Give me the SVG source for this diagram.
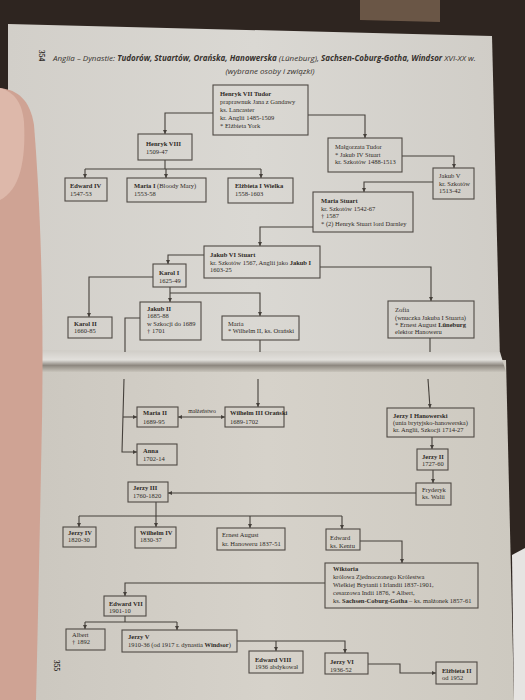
<svg xmlns="http://www.w3.org/2000/svg" width="525" height="700" viewBox="0 0 525 700">
<defs>
<style>
.bx{fill:none;stroke:#4f4944;stroke-width:1.1}
.t{font-family:"Liberation Serif","Times New Roman",serif;font-size:6.5px;fill:#2e2a26}
.b{font-weight:bold}
.ln{fill:none;stroke:#45403b;stroke-width:1.1}
.hd{font-family:"Open Sans","Liberation Sans",sans-serif;font-style:italic;font-size:8px;fill:#37322e}
</style>
<marker id="ar" viewBox="0 0 8 8" refX="8" refY="4" markerWidth="4" markerHeight="4" orient="auto" markerUnits="userSpaceOnUse">
<path d="M0,0 L8,4 L0,8 z" fill="#45403b"/>
</marker>
<marker id="as" viewBox="0 0 8 8" refX="0" refY="4" markerWidth="4" markerHeight="4" orient="auto" markerUnits="userSpaceOnUse">
<path d="M8,0 L0,4 L8,8 z" fill="#45403b"/>
</marker>
<linearGradient id="sp" x1="0" y1="0" x2="0" y2="1">
<stop offset="0" stop-color="#cfccc6"/>
<stop offset="0.45" stop-color="#e2e0dc"/>
<stop offset="0.7" stop-color="#8d877f"/>
<stop offset="1" stop-color="#c9c5bc"/>
</linearGradient>
<linearGradient id="pg1" x1="0" y1="0" x2="1" y2="0">
<stop offset="0" stop-color="#d2cfc9"/>
<stop offset="0.5" stop-color="#dad8d3"/>
<stop offset="1" stop-color="#d0cdc7"/>
</linearGradient>
<linearGradient id="pg2" x1="0" y1="0" x2="1" y2="0">
<stop offset="0" stop-color="#cbc7bf"/>
<stop offset="0.5" stop-color="#d6d2ca"/>
<stop offset="1" stop-color="#cdc9c0"/>
</linearGradient>
</defs>

<!-- background scene -->
<g id="scene">
<rect x="0" y="0" width="525" height="700" fill="#2e2520"/>
<polygon points="360,0 440,0 440,22 360,20" fill="#6a5646"/>
<polygon points="8,24 492,36 500,360 8,356" fill="url(#pg1)"/>
<polygon points="20,364 506,360 514,700 20,700" fill="url(#pg2)"/>
<polygon points="8,350 500,352 506,372 8,372" fill="url(#sp)"/>
<polygon points="512,555 525,548 525,700 514,700" fill="#e6e4e2"/>
<path d="M0,88 C18,90 30,100 34,125 C40,200 44,300 42,420 C40,520 38,620 36,700 L0,700 Z" fill="#cfa394"/>
<path d="M0,88 C14,92 22,102 24,122 C26,160 20,190 0,200 Z" fill="#ddb8aa"/>
</g>

<!-- header -->
<g id="header">
<text class="t b" transform="translate(39,50) rotate(90)" style="font-size:7.5px">354</text>
<text class="hd" x="53" y="61">Anglia – Dynastie: <tspan font-weight="bold">Tudorów, Stuartów, Orańska, Hanowerska</tspan> (Lüneburg), <tspan font-weight="bold">Sachsen-Coburg-Gotha, Windsor</tspan> XVI-XX w.</text>
<text class="hd" x="270" y="74" text-anchor="middle">(wybrane osoby i związki)</text>
<text class="t b" transform="translate(54,660) rotate(90)" style="font-size:7.5px">355</text>
</g>

<!-- connectors -->
<g id="connectors">
<polyline class="ln" points="213,113 165,113 165,134" marker-end="url(#ar)"/>
<polyline class="ln" points="308,115 365,115 365,138" marker-end="url(#ar)"/>
<polyline class="ln" points="165,160 165,169"/>
<polyline class="ln" points="85,169 261,169"/>
<polyline class="ln" points="85,169 85,178" marker-end="url(#ar)"/>
<polyline class="ln" points="166,169 166,178" marker-end="url(#ar)"/>
<polyline class="ln" points="261,169 261,178" marker-end="url(#ar)"/>
<polyline class="ln" points="402,156 454,156 454,168" marker-end="url(#ar)"/>
<polyline class="ln" points="433,182 364,182 364,192" marker-end="url(#ar)"/>
<polyline class="ln" points="313,227 260,227 260,246" marker-end="url(#ar)"/>
<polyline class="ln" points="204,255 168,255 168,264" marker-end="url(#ar)"/>
<polyline class="ln" points="320,267 431,267 431,301" marker-end="url(#ar)"/>
<polyline class="ln" points="153,277 89,277 89,317" marker-end="url(#ar)"/>
<polyline class="ln" points="170,287 170,302" marker-end="url(#ar)"/>
<polyline class="ln" points="170,293 260,293 260,316" marker-end="url(#ar)"/>
<polyline class="ln" points="140,318 125,318 125,352"/>
<polyline class="ln" points="260,340 260,352"/>
<polyline class="ln" points="430,338 430,352"/>
<polyline class="ln" points="124,379 122,452 137,452" marker-end="url(#ar)"/>
<polyline class="ln" points="123,417 137,417" marker-end="url(#ar)"/>
<polyline class="ln" points="258,379 258,407" marker-end="url(#ar)"/>
<polyline class="ln" points="178,417 225,417" marker-start="url(#as)" marker-end="url(#ar)"/>
<text class="t" x="202" y="413" text-anchor="middle" style="font-size:5.8px">małżeństwo</text>
<polyline class="ln" points="428,379 430,408" marker-end="url(#ar)"/>
<polyline class="ln" points="432,437 432,449" marker-end="url(#ar)"/>
<polyline class="ln" points="433,470 433,483" marker-end="url(#ar)"/>
<polyline class="ln" points="416,493 168,493" marker-end="url(#ar)"/>
<polyline class="ln" points="156,502 156,527" marker-end="url(#ar)"/>
<polyline class="ln" points="79,516 342,516"/>
<polyline class="ln" points="79,516 79,527" marker-end="url(#ar)"/>
<polyline class="ln" points="250,516 250,528" marker-end="url(#ar)"/>
<polyline class="ln" points="342,516 342,529" marker-end="url(#ar)"/>
<polyline class="ln" points="360,541 402,541 402,563" marker-end="url(#ar)"/>
<polyline class="ln" points="325,583 125,583 125,596" marker-end="url(#ar)"/>
<polyline class="ln" points="125,616 125,622"/>
<polyline class="ln" points="85,622 177,622"/>
<polyline class="ln" points="85,622 85,629" marker-end="url(#ar)"/>
<polyline class="ln" points="177,622 177,630" marker-end="url(#ar)"/>
<polyline class="ln" points="237,641 345,641 345,653" marker-end="url(#ar)"/>
<polyline class="ln" points="276,641 276,651" marker-end="url(#ar)"/>
<polyline class="ln" points="368,664 400,664 400,673 436,673" marker-end="url(#ar)"/>
</g>

<!-- nodes -->
<g id="henryk7"><rect class="bx" x="213" y="85" width="95" height="50"/>
<text class="t"><tspan class="b" x="220" y="96">Henryk VII Tudor</tspan><tspan x="220" y="104">praprawnuk Jana z Gandawy</tspan><tspan x="220" y="112">ks. Lancaster</tspan><tspan x="220" y="120">kr. Anglii 1485-1509</tspan><tspan x="220" y="128">* Elżbieta York</tspan></text></g>

<g id="henryk8"><rect class="bx" x="138" y="134" width="54" height="26"/>
<text class="t"><tspan class="b" x="146" y="146">Henryk VIII</tspan><tspan x="146" y="154">1509-47</tspan></text></g>

<g id="malgorzata"><rect class="bx" x="328" y="138" width="74" height="34"/>
<text class="t"><tspan x="335" y="149">Małgorzata Tudor</tspan><tspan x="335" y="156.5">* Jakub IV Stuart</tspan><tspan x="335" y="164">kr. Szkotów 1488-1513</tspan></text></g>

<g id="jakub5"><rect class="bx" x="433" y="168" width="41" height="31"/>
<text class="t"><tspan x="439" y="178">Jakub V</tspan><tspan x="439" y="185.5">kr. Szkotów</tspan><tspan x="439" y="193">1513-42</tspan></text></g>

<g id="edward4"><rect class="bx" x="65" y="178" width="42" height="23"/>
<text class="t"><tspan class="b" x="70" y="188">Edward IV</tspan><tspan x="70" y="196">1547-53</tspan></text></g>

<g id="maria1"><rect class="bx" x="127" y="178" width="79" height="24"/>
<text class="t"><tspan class="b" x="134" y="188">Maria I</tspan><tspan> (Bloody Mary)</tspan><tspan x="134" y="196">1553-58</tspan></text></g>

<g id="elzbieta1"><rect class="bx" x="228" y="178" width="65" height="25"/>
<text class="t"><tspan class="b" x="235" y="188">Elżbieta I Wielka</tspan><tspan x="235" y="196">1558-1603</tspan></text></g>

<g id="mariastuart"><rect class="bx" x="313" y="192" width="100" height="40"/>
<text class="t"><tspan class="b" x="321" y="203">Maria Stuart</tspan><tspan x="321" y="210.5">kr. Szkotów 1542-67</tspan><tspan x="321" y="218">† 1587</tspan><tspan x="321" y="226">* (2) Henryk Stuart lord Darnley</tspan></text></g>

<g id="jakub6"><rect class="bx" x="204" y="246" width="116" height="32"/>
<text class="t"><tspan class="b" x="210" y="257">Jakub VI Stuart</tspan><tspan x="210" y="264.5">kr. Szkotów 1567, Anglii jako </tspan><tspan class="b">Jakub I</tspan><tspan x="210" y="272">1603-25</tspan></text></g>

<g id="karol1"><rect class="bx" x="153" y="264" width="33" height="23"/>
<text class="t"><tspan class="b" x="159" y="275">Karol I</tspan><tspan x="159" y="282.5">1625-49</tspan></text></g>

<g id="karol2"><rect class="bx" x="68" y="317" width="44" height="21"/>
<text class="t"><tspan class="b" x="74" y="325.5">Karol II</tspan><tspan x="74" y="332.5">1660-85</tspan></text></g>

<g id="jakub2"><rect class="bx" x="140" y="302" width="61" height="38"/>
<text class="t"><tspan class="b" x="147" y="311">Jakub II</tspan><tspan x="147" y="318">1685-88</tspan><tspan x="147" y="325.5">w Szkocji do 1689</tspan><tspan x="147" y="333">† 1701</tspan></text></g>

<g id="maria"><rect class="bx" x="222" y="316" width="77" height="24"/>
<text class="t"><tspan x="228" y="326">Maria</tspan><tspan x="228" y="333">* Wilhelm II, ks. Orański</tspan></text></g>

<g id="zofia"><rect class="bx" x="388" y="301" width="86" height="37"/>
<text class="t"><tspan x="395" y="312">Zofia</tspan><tspan x="395" y="319.5">(wnuczka Jakuba I Stuarta)</tspan><tspan x="395" y="327">* Ernest August </tspan><tspan class="b">Lüneburg</tspan><tspan x="395" y="334">elektor Hanoweru</tspan></text></g>

<g id="maria2"><rect class="bx" x="137" y="407" width="41" height="20"/>
<text class="t"><tspan class="b" x="143" y="415">Maria II</tspan><tspan x="143" y="423.5">1689-95</tspan></text></g>

<g id="wilhelm3"><rect class="bx" x="225" y="407" width="59" height="20"/>
<text class="t"><tspan class="b" x="230" y="415">Wilhelm III Orański</tspan><tspan x="230" y="423.5">1689-1702</tspan></text></g>

<g id="anna"><rect class="bx" x="137" y="444" width="40" height="21"/>
<text class="t"><tspan class="b" x="143" y="452.5">Anna</tspan><tspan x="143" y="460.5">1702-14</tspan></text></g>

<g id="jerzy1"><rect class="bx" x="387" y="408" width="87" height="29"/>
<text class="t"><tspan class="b" x="393" y="417.5">Jerzy I Hanowerski</tspan><tspan x="393" y="424.5">(unia brytyjsko-hanowerska)</tspan><tspan x="393" y="432">kr. Anglii, Szkocji 1714-27</tspan></text></g>

<g id="jerzy2"><rect class="bx" x="417" y="449" width="31" height="21"/>
<text class="t"><tspan class="b" x="422" y="458.5">Jerzy II</tspan><tspan x="422" y="465.5">1727-60</tspan></text></g>

<g id="fryderyk"><rect class="bx" x="416" y="483" width="35" height="22"/>
<text class="t"><tspan x="422" y="491.5">Fryderyk</tspan><tspan x="422" y="499">ks. Walii</tspan></text></g>

<g id="jerzy3"><rect class="bx" x="128" y="482" width="40" height="20"/>
<text class="t"><tspan class="b" x="133" y="490">Jerzy III</tspan><tspan x="133" y="498">1760-1820</tspan></text></g>

<g id="jerzy4"><rect class="bx" x="63" y="527" width="33" height="20"/>
<text class="t"><tspan class="b" x="68" y="534.5">Jerzy IV</tspan><tspan x="68" y="542">1820-30</tspan></text></g>

<g id="wilhelm4"><rect class="bx" x="135" y="527" width="41" height="21"/>
<text class="t"><tspan class="b" x="140" y="534.5">Wilhelm IV</tspan><tspan x="140" y="542">1830-37</tspan></text></g>

<g id="ernest"><rect class="bx" x="217" y="528" width="68" height="22"/>
<text class="t"><tspan x="222" y="537">Ernest August</tspan><tspan x="222" y="545.5">kr. Hanoweru 1837-51</tspan></text></g>

<g id="edward"><rect class="bx" x="326" y="529" width="34" height="21"/>
<text class="t"><tspan x="330" y="540">Edward</tspan><tspan x="330" y="548">ks. Kentu</tspan></text></g>

<g id="wiktoria"><rect class="bx" x="325" y="563" width="153" height="45"/>
<text class="t"><tspan class="b" x="333" y="571">Wiktoria</tspan><tspan x="333" y="579">królowa Zjednoczonego Królestwa</tspan><tspan x="333" y="586.5">Wielkiej Brytanii i Irlandii 1837-1901,</tspan><tspan x="333" y="594.5">cesarzowa Indii 1876, * Albert,</tspan><tspan x="333" y="602.5">ks. </tspan><tspan class="b">Sachsen-Coburg-Gotha</tspan><tspan> – ks. małżonek 1857-61</tspan></text></g>

<g id="edward7"><rect class="bx" x="104" y="596" width="42" height="20"/>
<text class="t"><tspan class="b" x="109" y="606">Edward VII</tspan><tspan x="109" y="613">1901-10</tspan></text></g>

<g id="albert"><rect class="bx" x="66" y="629" width="39" height="21"/>
<text class="t"><tspan x="72" y="637">Albert</tspan><tspan x="72" y="644">† 1892</tspan></text></g>

<g id="jerzy5"><rect class="bx" x="122" y="630" width="115" height="22"/>
<text class="t"><tspan class="b" x="128" y="639">Jerzy V</tspan><tspan x="128" y="647">1910-36 (od 1917 r. dynastia </tspan><tspan class="b">Windsor</tspan><tspan>)</tspan></text></g>

<g id="edward8"><rect class="bx" x="249" y="651" width="54" height="22"/>
<text class="t"><tspan class="b" x="255" y="661.5">Edward VIII</tspan><tspan x="255" y="669">1936 abdykował</tspan></text></g>

<g id="jerzy6"><rect class="bx" x="325" y="653" width="43" height="21"/>
<text class="t"><tspan class="b" x="330" y="664">Jerzy VI</tspan><tspan x="330" y="671.5">1936-52</tspan></text></g>

<g id="elzbieta2"><rect class="bx" x="436" y="662" width="41" height="22"/>
<text class="t"><tspan class="b" x="442" y="672.5">Elżbieta II</tspan><tspan x="442" y="680">od 1952</tspan></text></g>
</svg>
